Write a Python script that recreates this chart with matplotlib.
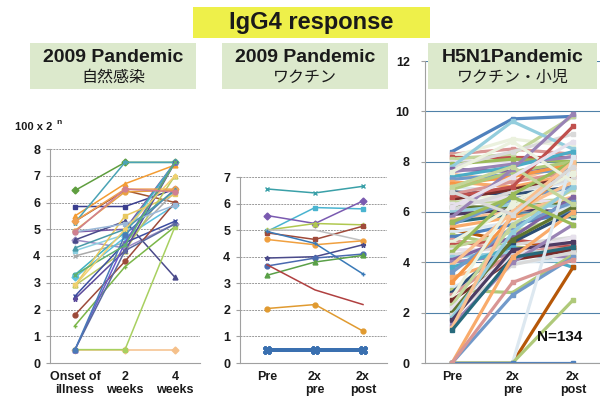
import matplotlib
matplotlib.use("Agg")
import matplotlib.pyplot as plt
from matplotlib.patches import Rectangle

# ---------------- data ----------------
nat_categories = ["Onset of\nillness", "2\nweeks", "4\nweeks"]
nat_values = [
    [6.45, 7.5, 7.5], [5.85, 5.85, 6.5], [5.5, 6.7, 7.4], [5.3, 6.45, 6.0],
    [5.25, 7.5, 7.5], [4.95, 6.4, 6.45], [4.9, 5.0, 7.5], [4.6, 4.3, 5.2],
    [4.2, 4.8, 7.5], [4.6, 5.3, 3.2], [4.0, 4.5, 6.4], [3.3, 4.9, 7.5],
    [3.2, 4.7, 5.9], [2.9, 5.5, 6.3], [2.9, 4.2, 7.0], [2.5, 4.5, 5.3],
    [2.4, 4.2, 7.5], [1.8, 3.8, 6.0], [1.4, 3.6, 5.1], [0.5, 0.5, 0.5],
    [0.5, 0.5, 5.1], [0.5, 4.5, 7.5], [0.5, 4.2, 5.2], [0.5, 4.8, 6.5],
    [5.3, 6.5, 6.5], [4.9, 5.2, 5.9], [4.3, 5.0, 6.45], [3.3, 4.4, 7.5],
    [2.9, 5.0, 7.0], [4.9, 6.5, 6.4],
]

vac_categories = ["Pre", "2x\npre", "2x\npost"]
vac_values = [
    [6.55, 6.4, 6.65], [4.95, 5.85, 5.8], [5.55, 5.25, 6.1], [5.0, 5.25, 5.2],
    [4.9, 4.65, 5.15], [5.0, 5.0, 4.6], [4.65, 4.45, 4.6], [3.95, 4.0, 4.45],
    [4.95, 4.5, 3.35], [3.65, 3.95, 4.1], [3.3, 3.8, 4.05], [3.7, 2.75, 2.2],
    [2.05, 2.2, 1.2], [0.5, 0.5, 0.5], [0.5, 0.5, 0.5], [0.5, 0.5, 0.5],
]

h5_categories = ["Pre", "2x\npre", "2x\npost"]
h5_values = [
    [8.4, 9.7, 9.8], [8.3, 8.5, 8.3], [8.2, 8.9, 8.6], [8.2, 8.2, 8.2],
    [8.1, 8.3, 9.8], [8.0, 8.0, 8.1], [7.9, 8.1, 8.0], [7.8, 8.4, 9.1],
    [7.8, 9.6, 8.5], [7.7, 7.6, 7.9], [7.6, 7.9, 8.2], [7.5, 7.2, 8.0],
    [7.4, 7.8, 8.4], [7.3, 7.5, 7.7], [7.2, 7.0, 7.5], [7.1, 7.4, 7.9],
    [7.0, 6.8, 7.2], [6.9, 7.6, 8.0], [6.8, 6.7, 7.0], [6.7, 7.2, 7.6],
    [6.6, 6.6, 6.8], [6.5, 6.9, 7.4], [6.4, 6.4, 6.5], [6.3, 6.6, 6.3],
    [6.2, 6.2, 6.4], [6.1, 6.8, 7.3], [6.0, 6.3, 6.2], [5.9, 6.1, 6.0],
    [5.8, 7.7, 9.9], [5.7, 6.0, 6.6], [5.6, 5.9, 5.8], [5.5, 6.5, 7.0],
    [5.4, 5.8, 6.1], [5.3, 4.8, 4.6], [5.2, 5.6, 6.2], [5.1, 4.6, 4.5],
    [5.0, 5.5, 6.0], [4.9, 4.4, 4.7], [4.8, 6.2, 7.6], [4.7, 4.9, 4.6],
    [4.6, 5.2, 5.9], [4.5, 4.5, 4.3], [4.4, 6.7, 8.0], [4.3, 4.7, 5.0],
    [4.2, 4.4, 4.4], [4.1, 5.0, 6.6], [4.0, 4.3, 4.2], [3.9, 6.0, 7.2],
    [3.8, 4.6, 3.8], [3.6, 5.4, 6.4], [3.4, 4.2, 4.6], [3.2, 5.8, 7.8],
    [3.0, 4.0, 4.1], [2.9, 2.8, 4.3], [2.8, 4.8, 6.0], [2.7, 4.4, 4.8],
    [2.6, 6.4, 7.5], [2.5, 4.1, 4.5], [2.3, 5.5, 6.9], [2.2, 4.3, 5.0],
    [2.0, 4.9, 6.2], [1.9, 3.9, 4.4], [1.8, 5.2, 7.0], [1.7, 4.5, 4.8],
    [1.5, 4.0, 5.5], [1.4, 6.0, 8.0], [1.3, 4.2, 4.6], [0.0, 2.7, 4.2],
    [0.0, 4.2, 6.0], [0.0, 0.0, 3.8], [0.0, 0.0, 8.2], [0.0, 0.0, 2.5],
    [0.0, 0.0, 0.0], [0.0, 3.2, 4.1], [7.6, 8.8, 7.2], [6.6, 7.0, 9.4],
    [7.0, 7.8, 6.3], [6.2, 7.4, 8.8], [5.6, 6.6, 5.5], [6.8, 5.9, 7.8],
]

nat_pos = [0, 1, 2]
vac_pos = [0, 1, 2]
h5_pos = [0, 1, 2]

# ---------------- styling ----------------
dark_colors = ['#4F81BD', '#C0504D', '#9BBB59', '#8064A2', '#4BACC6', '#F79646',
               '#2C4D75', '#772C2A', '#5F7530', '#4D3B62', '#276A7C', '#B65708']
light_colors = ['#95B3D7', '#FAC090', '#C3D69B', '#B2A2C7', '#93CDDD', '#D99694',
                '#F2F2F2', '#E6E0EC', '#DDE8F0', '#FBE5D6', '#EBF1DE', '#729ACA',
                '#CD7371', '#AFC97A', '#9983B5', '#6FBDD1', '#F9AB6B', '#D9D9D9']
markers = ['D', 's', '^', 'x', '*', 'o', '+', 'D', 's', '^', 'x', 'o']

nat_colors = ['#5F9E3F', '#3B3F8F', '#F39C33', '#A0522D', '#4AA3B5', '#E8A040',
              '#7A5AA6', '#9A8CC4', '#8CCFE0', '#4A4A8A', '#AAAAAA', '#3FB0C0',
              '#5BC0DE', '#E8C860', '#B8C860', '#3C4CA0', '#5B4A9A', '#9C4A3A',
              '#7AB648', '#F5C08A', '#A8D060', '#6A5ACD', '#5A6AA0', '#4A7AB8',
              '#F0A050', '#9AB8D8', '#4A9AA8', '#60B070', '#F0D070', '#D08090']
vac_colors = ['#3AA0A8', '#4AB4D0', '#7A5AB0', '#B0C850', '#A04A3A', '#C0C0C0',
              '#F0A040', '#4A4A8A', '#3A7AB8', '#4A6AB0', '#5AA048', '#B04040',
              '#E09A30', '#3A70B0', '#3A70B0', '#3A70B0']
vac_markers = ['x', 's', 'D', '^', 's', '', 'o', '*', '+', 'o', '^', '', 'o',
               'X', 'X', 'X']

W, H = 600, 404
fig = plt.figure(figsize=(W / 100, H / 100), dpi=100)
fig.patch.set_facecolor('white')


def px_axes(left, right, top, bottom):
    return fig.add_axes([left / W, 1 - bottom / H, (right - left) / W, (bottom - top) / H])


def style_axes(ax, grid_color, grid_style, grid_width):
    ax.set_facecolor('none')
    for s in ['top', 'right']:
        ax.spines[s].set_visible(False)
    for s in ['left', 'bottom']:
        ax.spines[s].set_color('#a0a0a0')
        ax.spines[s].set_linewidth(0.8)
    ax.yaxis.grid(True, color=grid_color, linestyle=grid_style, linewidth=grid_width, zorder=0)
    ax.set_axisbelow(True)
    ax.tick_params(axis='y', length=3, color='#a0a0a0', pad=4)
    ax.tick_params(axis='x', length=0, pad=6)
    for lab in ax.get_xticklabels() + ax.get_yticklabels():
        lab.set_fontfamily('Liberation Sans')
        lab.set_fontweight('bold')
        lab.set_fontsize(9)
        lab.set_color('#1a1a1a')


# ---------------- panel 1: natural infection ----------------
ax1 = px_axes(50, 200, 149, 363)
for i, row in enumerate(nat_values):
    c = nat_colors[i % len(nat_colors)]
    ax1.plot(nat_pos, row, color=c, lw=1.1, marker=markers[i % len(markers)],
             ms=3.5, mfc=c, mec=c, zorder=2)
ax1.set_xlim(-0.5, 2.5)
ax1.set_ylim(0, 8)
ax1.set_yticks(range(0, 9))
ax1.set_xticks(nat_pos)
ax1.set_xticklabels(nat_categories, linespacing=1.1)
style_axes(ax1, '#9a9a9a', (0, (2, 1)), 0.7)

# ---------------- panel 2: 2009 vaccine ----------------
ax2 = px_axes(240, 387, 177, 363)
for i, row in enumerate(vac_values):
    c = vac_colors[i]
    m = vac_markers[i]
    lw = 2.6 if m == 'X' else 1.1
    ax2.plot(vac_pos, row, color=c, lw=lw, marker=m if m else None,
             ms=6 if m == 'X' else 3.5, mfc=c, mec=c, zorder=2)
ax2.set_xlim(-0.5625, 2.5)
ax2.set_ylim(0, 7)
ax2.set_yticks(range(0, 8))
ax2.set_xticks(vac_pos)
ax2.set_xticklabels(vac_categories, linespacing=1.1)
style_axes(ax2, '#9a9a9a', (0, (2, 1)), 0.7)

# ---------------- panel 3: H5N1 vaccine, children ----------------
ax3 = px_axes(425, 600, 61, 363)
for i, row in enumerate(h5_values):
    if i % 3 == 0:
        c = dark_colors[(i // 3) % len(dark_colors)]
    else:
        c = light_colors[(i * 5) % len(light_colors)]
    ax3.plot(h5_pos, row, color=c, lw=2.3, marker='s', ms=3, mfc=c, mec=c,
             zorder=2)
ax3.set_xlim(-0.446, 2.446)
ax3.set_ylim(0, 12)
ax3.set_yticks(range(0, 13, 2))
ax3.set_xticks(h5_pos)
ax3.set_xticklabels(h5_categories, linespacing=1.1)
style_axes(ax3, '#4f81a8', '-', 0.8)
ax3.tick_params(axis='y', pad=8)
ax3.text(0.9, 0.085, "N=134", transform=ax3.transAxes, ha='right', va='center',
         fontsize=11, fontweight='bold', family='Liberation Sans', color='#111111', zorder=5)

# ---------------- headers ----------------
def fig_box(x0, x1, y0, y1, color):
    fig.add_artist(Rectangle((x0 / W, 1 - y1 / H), (x1 - x0) / W, (y1 - y0) / H,
                             transform=fig.transFigure, facecolor=color,
                             edgecolor='none', zorder=10))


def fig_text(x, y, s, **kw):
    fig.text(x / W, 1 - y / H, s, ha='center', va='center', zorder=11, **kw)


fig_box(193, 430, 7, 38, '#EEF04A')
fig_text(311, 22, "IgG4 response", fontsize=17, fontweight='bold',
         family='Liberation Sans', color='#1a1a1a')

jp = ['Noto Sans CJK JP', 'DejaVu Sans']
headers = [
    (30, 196, "2009 Pandemic", "自然感染"),
    (222, 388, "2009 Pandemic", "ワクチン"),
    (428, 597, "H5N1Pandemic", "ワクチン・小児"),
]
for x0, x1, top, bottom in headers:
    fig_box(x0, x1, 43, 89, '#DCE9CC')
    cx = (x0 + x1) / 2
    fig_text(cx, 58, top, fontsize=14, fontweight='bold', family='Liberation Sans',
             color='#1a1a1a')
    fig_text(cx, 77, bottom, fontsize=11.5, family=jp, color='#1a1a1a')

fig.text(15 / W, 1 - 127 / H, "100 x 2 ", ha='left', va='center', fontsize=8,
         fontweight='bold', family='Liberation Sans', color='#1a1a1a')
fig.text(56 / W, 1 - 123 / H, "n", ha='left', va='center', fontsize=6,
         fontweight='bold', family='Liberation Sans', color='#1a1a1a')

fig.savefig("out.png", dpi=100)
